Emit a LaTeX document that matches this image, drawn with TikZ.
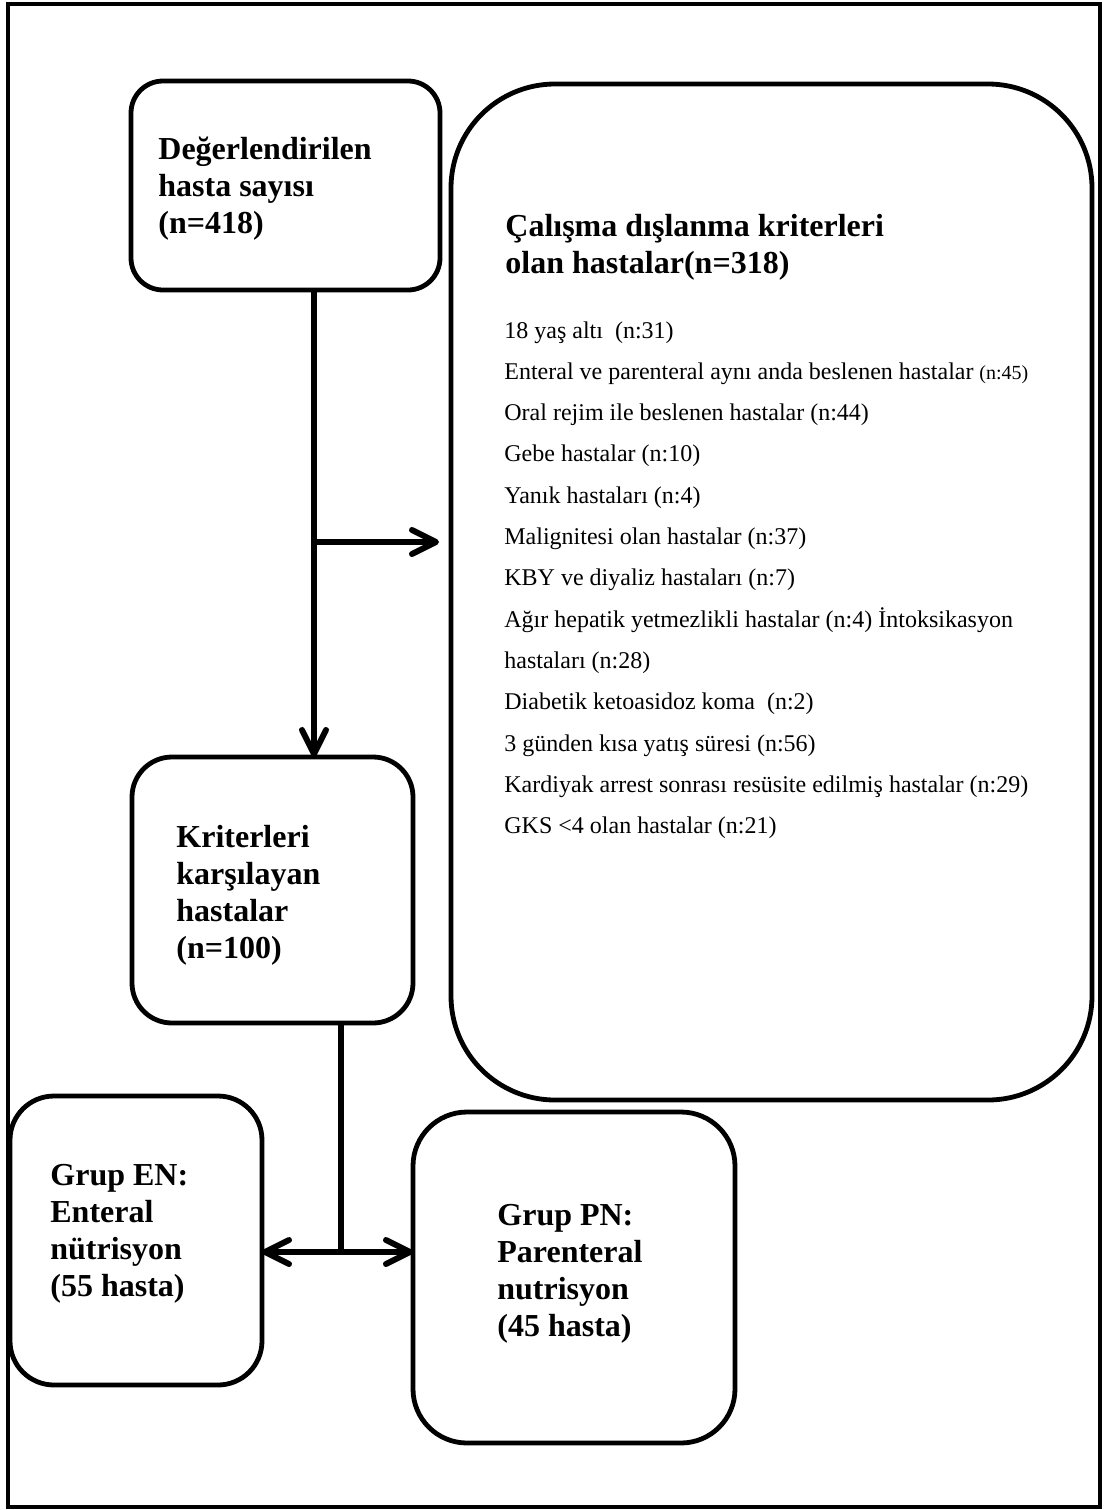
\documentclass[tikz,border=0pt]{standalone}
\usepackage{fontspec}
\setmainfont{Liberation Serif}
\usetikzlibrary{arrows.meta}

\tikzset{
  box/.style={draw, line width=2.4pt, rounded corners=#1, inner sep=0pt, outer sep=0pt},
  title/.style={font=\fontsize{16}{18.5}\selectfont\bfseries, align=left, anchor=base west, inner sep=0pt},
  item/.style={font=\fontsize{12}{14}\selectfont, anchor=base west, inner sep=0pt},
  flow/.style={line width=3pt},
  flowarrow/.style={line width=3pt, -{Straight Barb[round, length=12pt, width=12pt]}}
}

\begin{document}
\begin{tikzpicture}[x=0.5pt, y=-0.5pt]
    \useasboundingbox (0,0) rectangle (1105,1510);
    % 外枠
    \draw[line width=2pt] (8,4) rectangle (1100,1507);

    % ノード
    \node[box=16pt, minimum width=154.5pt, minimum height=104.5pt] (A) at (285.5,185.5) {};
    \node[box=52pt, minimum width=320.5pt, minimum height=508pt] (B) at (771.5,592) {};
    \node[box=20pt, minimum width=140.5pt, minimum height=133pt] (C) at (272.5,890) {};
    \node[box=22pt, minimum width=126pt, minimum height=144.5pt] (D) at (136,1240.5) {};
    \node[box=27pt, minimum width=161pt, minimum height=165.5pt] (E) at (574,1277.5) {};

    % テキスト (最終行のベースライン)
    \node[title] (Atext) at (158,233) {Değerlendirilen\\hasta sayısı\\(n=418)};
    \node[title] (Btext) at (505,273) {Çalışma dışlanma kriterleri\\olan hastalar(n=318)};
    \node[title] (Ctext) at (176,958) {Kriterleri\\karşılayan\\hastalar\\(n=100)};
    \node[title] (Dtext) at (50,1296) {Grup EN:\\Enteral\\nütrisyon\\(55 hasta)};
    \node[title] (Etext) at (497,1336) {Grup PN:\\Parenteral\\nutrisyon\\(45 hasta)};

    % 除外基準
    \foreach \txt [count=\i] in {
        18 yaş altı\ \ (n:31),
        Enteral ve parenteral aynı anda beslenen hastalar {\fontsize{10}{12}\selectfont(n:45)},
        Oral rejim ile beslenen hastalar (n:44),
        Gebe hastalar (n:10),
        Yanık hastaları (n:4),
        Malignitesi olan hastalar (n:37),
        KBY ve diyaliz hastaları (n:7),
        Ağır hepatik yetmezlikli hastalar (n:4) İntoksikasyon,
        hastaları (n:28),
        Diabetik ketoasidoz koma\ \ (n:2),
        3 günden kısa yatış süresi (n:56),
        Kardiyak arrest sonrası resüsite edilmiş hastalar (n:29),
        GKS <4 olan hastalar (n:21)}
      \node[item] (ex\i) at (504,{338+41.3*(\i-1)}) {\txt};

    % エッジ
    \coordinate (split) at (314,542);
    \coordinate (fork) at (341,1252);
    \draw[flow] (A.south -| split) -- (split);
    \draw[flowarrow] (split) -- (C.north -| split);
    \draw[flowarrow, shorten >=6pt] (split) -- (B.west |- split);
    \draw[flow] (C.south -| fork) -- (fork);
    \draw[flowarrow] (fork) -- (D.east |- fork);
    \draw[flowarrow] (fork) -- (E.west |- fork);
\end{tikzpicture}
\end{document}
